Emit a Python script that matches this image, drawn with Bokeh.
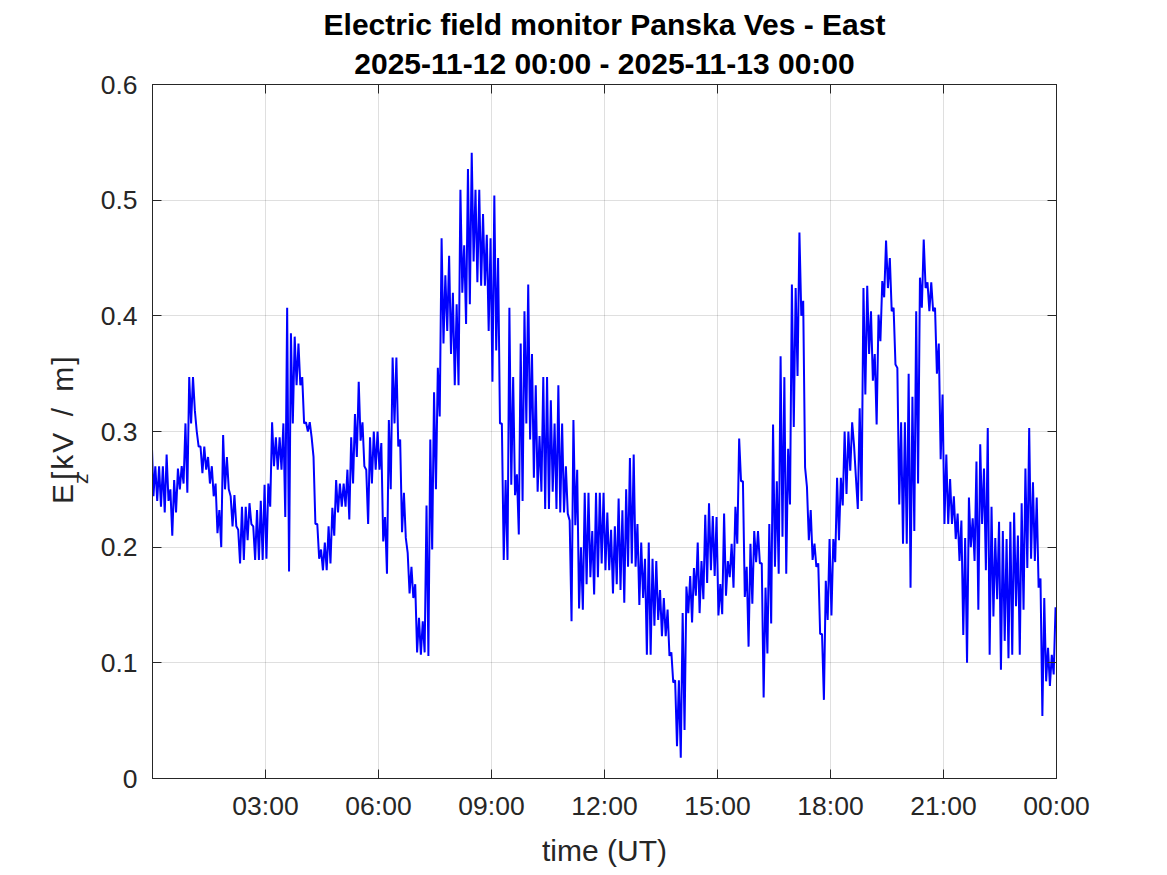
import numpy as np
from bokeh.plotting import figure
from bokeh.models import Range1d, FixedTicker, LinearAxis, ColumnDataSource, Div, Title
from bokeh.layouts import row
from bokeh.embed import file_html
from bokeh.resources import INLINE

# ---------------- data ----------------
# time grid: 0.0 h .. 24.0 h in 0.1 h bins (UT, 2025-11-12)
t_start_h = 0.0
t_step_h = 0.1

# upper envelope of Ez [kV/m] in each 0.1 h bin
ez_max = [
    0.298, 0.27, 0.27, 0.27, 0.28, 0.25, 0.258, 0.268, 0.27, 0.307,
    0.347, 0.347, 0.30, 0.287, 0.287, 0.278, 0.27, 0.255, 0.232, 0.297,
    0.278, 0.244, 0.245, 0.215, 0.235, 0.235, 0.238, 0.218, 0.232, 0.24,
    0.254, 0.255, 0.308, 0.295, 0.295, 0.307, 0.407, 0.385, 0.382, 0.376,
    0.347, 0.308, 0.308, 0.278, 0.22, 0.198, 0.204, 0.218, 0.234, 0.258,
    0.255, 0.255, 0.267, 0.295, 0.315, 0.343, 0.308, 0.267, 0.295, 0.30,
    0.30, 0.29, 0.226, 0.31, 0.364, 0.364, 0.293, 0.247, 0.195, 0.183,
    0.168, 0.139, 0.136, 0.236, 0.293, 0.334, 0.355, 0.467, 0.435, 0.452,
    0.42, 0.41, 0.509, 0.461, 0.527, 0.541, 0.509, 0.509, 0.488, 0.47,
    0.467, 0.504, 0.45, 0.307, 0.258, 0.407, 0.347, 0.263, 0.376, 0.404,
    0.427, 0.367, 0.34, 0.296, 0.347, 0.347, 0.327, 0.307, 0.34, 0.307,
    0.27, 0.223, 0.31, 0.267, 0.2, 0.247, 0.247, 0.214, 0.247, 0.247,
    0.247, 0.23, 0.215, 0.218, 0.242, 0.232, 0.25, 0.277, 0.28, 0.22,
    0.204, 0.19, 0.204, 0.19, 0.188, 0.163, 0.156, 0.146, 0.109, 0.085,
    0.085, 0.143, 0.166, 0.175, 0.182, 0.204, 0.188, 0.228, 0.238, 0.227,
    0.226, 0.168, 0.229, 0.188, 0.203, 0.235, 0.294, 0.257, 0.183, 0.203,
    0.214, 0.214, 0.186, 0.165, 0.22, 0.306, 0.257, 0.365, 0.347, 0.285,
    0.427, 0.424, 0.472, 0.413, 0.252, 0.232, 0.203, 0.186, 0.125, 0.171,
    0.207, 0.207, 0.26, 0.26, 0.30, 0.30, 0.308, 0.26, 0.32, 0.424,
    0.426, 0.404, 0.367, 0.401, 0.43, 0.465, 0.45, 0.407, 0.355, 0.308,
    0.308, 0.35, 0.33, 0.404, 0.433, 0.466, 0.429, 0.429, 0.407, 0.376,
    0.332, 0.28, 0.259, 0.244, 0.229, 0.223, 0.208, 0.243, 0.225, 0.274,
    0.289, 0.268, 0.303, 0.235, 0.208, 0.222, 0.214, 0.207, 0.222, 0.23,
    0.21, 0.238, 0.268, 0.303, 0.256, 0.243, 0.173, 0.156, 0.113, 0.107,
    0.148,
]

# lower envelope of Ez [kV/m] in each 0.1 h bin
ez_min = [
    0.244, 0.24, 0.235, 0.23, 0.24, 0.21, 0.23, 0.25, 0.255, 0.247,
    0.307, 0.318, 0.287, 0.264, 0.267, 0.255, 0.244, 0.212, 0.20, 0.25,
    0.25, 0.218, 0.218, 0.186, 0.189, 0.206, 0.22, 0.189, 0.189, 0.189,
    0.19, 0.235, 0.27, 0.267, 0.267, 0.226, 0.179, 0.307, 0.34, 0.34,
    0.307, 0.30, 0.295, 0.22, 0.19, 0.18, 0.18, 0.186, 0.21, 0.23,
    0.235, 0.235, 0.224, 0.255, 0.278, 0.292, 0.27, 0.22, 0.255, 0.267,
    0.267, 0.205, 0.177, 0.25, 0.307, 0.287, 0.213, 0.208, 0.16, 0.156,
    0.109, 0.107, 0.109, 0.106, 0.198, 0.25, 0.313, 0.376, 0.387, 0.367,
    0.34, 0.34, 0.42, 0.393, 0.41, 0.447, 0.429, 0.426, 0.426, 0.387,
    0.343, 0.37, 0.307, 0.189, 0.189, 0.254, 0.245, 0.211, 0.24, 0.307,
    0.293, 0.26, 0.248, 0.248, 0.233, 0.233, 0.248, 0.233, 0.23, 0.23,
    0.229, 0.136, 0.219, 0.147, 0.146, 0.168, 0.174, 0.159, 0.174, 0.186,
    0.18, 0.18, 0.16, 0.168, 0.163, 0.152, 0.183, 0.186, 0.183, 0.15,
    0.156, 0.107, 0.107, 0.132, 0.137, 0.123, 0.123, 0.106, 0.083, 0.028,
    0.018, 0.042, 0.143, 0.135, 0.158, 0.143, 0.155, 0.169, 0.18, 0.175,
    0.141, 0.142, 0.158, 0.174, 0.165, 0.203, 0.257, 0.157, 0.114, 0.151,
    0.187, 0.186, 0.07, 0.108, 0.134, 0.183, 0.177, 0.209, 0.177, 0.237,
    0.304, 0.348, 0.40, 0.269, 0.206, 0.189, 0.183, 0.125, 0.068, 0.137,
    0.141, 0.187, 0.206, 0.236, 0.246, 0.266, 0.288, 0.233, 0.24, 0.332,
    0.367, 0.344, 0.306, 0.378, 0.416, 0.424, 0.404, 0.358, 0.237, 0.203,
    0.203, 0.165, 0.214, 0.255, 0.407, 0.424, 0.404, 0.404, 0.35, 0.276,
    0.22, 0.22, 0.22, 0.207, 0.188, 0.124, 0.10, 0.20, 0.188, 0.146,
    0.22, 0.18, 0.107, 0.14, 0.155, 0.094, 0.119, 0.104, 0.107, 0.149,
    0.107, 0.146, 0.182, 0.19, 0.188, 0.165, 0.054, 0.084, 0.08, 0.09,
    0.128,
]

x_ticks = [3, 6, 9, 12, 15, 18, 21, 24]
x_tick_labels = ["03:00", "06:00", "09:00", "12:00", "15:00", "18:00", "21:00", "00:00"]
y_ticks = [0, 0.1, 0.2, 0.3, 0.4, 0.5, 0.6]
y_tick_labels = ["0", "0.1", "0.2", "0.3", "0.4", "0.5", "0.6"]

title_line1 = "Electric field monitor Panska Ves - East"
title_line2 = "2025-11-12 00:00 - 2025-11-13 00:00"
x_label = "time (UT)"

# ---------------- build the trace ----------------
n = len(ez_max)
t = t_start_h + t_step_h * np.arange(n)
xs = np.empty(2 * n)
ys = np.empty(2 * n)
xs[0::2] = t - 0.025
xs[1::2] = t + 0.025
ys[0::2] = ez_max
ys[1::2] = ez_min
src = ColumnDataSource(dict(x=xs, y=ys))

FONT = "Liberation Sans"
AX = "#262626"

PAGE_W, PAGE_H = 1167, 875
LABEL_W = 90
W, H = PAGE_W - LABEL_W, PAGE_H
FRAME_L, FRAME_R, FRAME_T, FRAME_B = 152, 1056, 84, 778

p = figure(width=W, height=H, x_range=Range1d(0, 24), y_range=Range1d(0, 0.6),
           output_backend="svg", toolbar_location=None,
           min_border_left=FRAME_L - LABEL_W, min_border_right=PAGE_W - FRAME_R,
           min_border_top=FRAME_T, min_border_bottom=PAGE_H - FRAME_B,
           margin=0)
p.background_fill_color = "white"
p.border_fill_color = "white"
p.outline_line_color = AX
p.outline_line_width = 1

p.line("x", "y", source=src, line_color="#0000ff", line_width=2)

# axes
xa = p.xaxis[0]
ya = p.yaxis[0]
xa.ticker = FixedTicker(ticks=x_ticks)
ya.ticker = FixedTicker(ticks=y_ticks)
xa.major_label_overrides = {k: v for k, v in zip(x_ticks, x_tick_labels)}
ya.major_label_overrides = {k: v for k, v in zip(y_ticks, y_tick_labels)}
for ax in (xa, ya):
    ax.axis_line_color = AX
    ax.major_tick_line_color = AX
    ax.major_tick_in = 9
    ax.major_tick_out = 0
    ax.minor_tick_line_color = None
    ax.major_label_text_font = FONT
    ax.major_label_text_font_size = "26.5px"
    ax.major_label_text_color = AX
xa.major_label_standoff = 12
ya.major_label_standoff = 15
xa.axis_label = x_label
xa.axis_label_text_font = FONT
xa.axis_label_text_font_size = "30px"
xa.axis_label_text_font_style = "normal"
xa.axis_label_text_color = AX
xa.axis_label_standoff = 10

# box axes (top and right): ticks only, no labels
top = LinearAxis(ticker=FixedTicker(ticks=x_ticks),
                 major_label_overrides={k: "" for k in x_ticks},
                 major_label_text_font_size="1px",
                 axis_line_color=AX, major_tick_line_color=AX, major_tick_in=9,
                 major_tick_out=0, minor_tick_line_color=None, major_label_standoff=0)
right = LinearAxis(ticker=FixedTicker(ticks=y_ticks),
                   major_label_overrides={k: "" for k in y_ticks},
                   major_label_text_font_size="1px",
                   axis_line_color=AX, major_tick_line_color=AX, major_tick_in=9,
                   major_tick_out=0, minor_tick_line_color=None, major_label_standoff=0)
p.add_layout(top, "above")
p.add_layout(right, "right")

# two-line bold title (second line nearest the frame)
p.add_layout(Title(text=title_line2, align="center", text_font=FONT, text_font_size="30px",
                   text_font_style="bold", text_color="black", standoff=10), "above")
p.add_layout(Title(text=title_line1, align="center", text_font=FONT, text_font_size="30px",
                   text_font_style="bold", text_color="black", standoff=-2), "above")

p.xgrid.ticker = FixedTicker(ticks=x_ticks)
p.ygrid.ticker = FixedTicker(ticks=y_ticks)
for g in (p.xgrid, p.ygrid):
    g.grid_line_color = AX
    g.grid_line_alpha = 0.15
    g.grid_line_width = 1

# ---------------- y-axis label with a real subscript: E_z [kV / m] ----------------
BASE = 25.4  # baseline offset inside a 30px line box
ylabel_html = (
    '<div style="position:relative;width:%dpx;height:%dpx;">'
    '<div style="position:absolute;left:%.1fpx;top:%.1fpx;transform:rotate(-90deg);'
    'transform-origin:0 0;white-space:nowrap;font-family:\'Liberation Sans\';'
    'font-size:30px;line-height:30px;color:%s;">'
    'E<span style="display:inline-block;width:4px;font-size:21px;position:relative;top:15px;">z</span>'
    '<span style="letter-spacing:2px;word-spacing:4px;">[kV / m]</span>'
    '</div></div>' % (LABEL_W, PAGE_H, 73.3 - BASE, 504, AX)
)
ylab = Div(text=ylabel_html, width=LABEL_W, height=PAGE_H, margin=0)

layout = row(ylab, p, spacing=0)
open("out.html", "w").write(file_html(layout, INLINE))
